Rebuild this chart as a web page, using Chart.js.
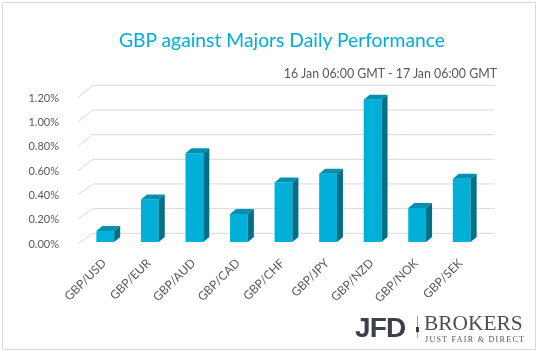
<!DOCTYPE html>
<html lang="en">
<head>
  <meta charset="UTF-8">
  <title>GBP against Majors Daily Performance</title>
  <style>
    body { margin: 0; background: #fff; }
    #wrap { position: relative; width: 538px; height: 351px; overflow: hidden; background: #fff; }
    #frame { position: absolute; left: 2px; top: 2px; width: 532px; height: 346px; border: 1px solid #d9d9d9; }
    canvas { position: absolute; left: 0; top: 0; }
    .txt { position: absolute; white-space: nowrap; line-height: 1; }
    #title { left: 119px; top: 28px; font: 19.3px Lato, sans-serif; color: #00aedb; }
    #sub { right: 41px; top: 66px; font: 12.4px Lato, sans-serif; color: #595959; }
    #jfd { left: 355px; top: 312px; font: bold 28px "Liberation Sans", Arial, sans-serif; color: #3b4049; letter-spacing: -0.8px; }
    #sep { position: absolute; left: 417px; top: 316px; width: 1px; height: 22px; background: #a0a0a0; }
    #dot { position: absolute; left: 416px; top: 327px; width: 3px; height: 5px; background: #3b4049; }
    #brokers { left: 424px; top: 311px; font: 21.4px "Liberation Serif", serif; color: #4a4f57; }
    #tag { left: 425px; top: 335px; font: 8px "Liberation Serif", serif; color: #555; letter-spacing: 1.3px; }
  </style>
</head>
<body>
<div id="wrap">
  <div id="frame"></div>
  <canvas id="chart" width="538" height="351"></canvas>
  <div class="txt" id="title">GBP against Majors Daily Performance</div>
  <div class="txt" id="sub">16 Jan 06:00 GMT - 17 Jan 06:00 GMT</div>
  <div class="txt" id="jfd">JFD</div>
  <div id="sep"></div>
  <div id="dot"></div>
  <div class="txt" id="brokers">BROKERS</div>
  <div class="txt" id="tag">JUST FAIR &amp; DIRECT</div>
</div>

<script src="https://cdn.jsdelivr.net/npm/chart.js@4.4.1/dist/chart.umd.min.js"></script>
<script>
  const categories = ['GBP/USD', 'GBP/EUR', 'GBP/AUD', 'GBP/CAD', 'GBP/CHF', 'GBP/JPY', 'GBP/NZD', 'GBP/NOK', 'GBP/SEK'];
  const changes = [0.09, 0.35, 0.73, 0.23, 0.49, 0.56, 1.17, 0.28, 0.52];
  const yTicks = [0, 0.2, 0.4, 0.6, 0.8, 1.0, 1.2];

  const frontColor = '#00b0d8';
  const topColor = '#0091b2';
  const sideColor = '#006f88';

  // back-wall gridlines with the little diagonal floor edge on the left
  const wallGrid = {
    id: 'wallGrid',
    beforeDatasetsDraw(chart) {
      const { ctx, chartArea, scales } = chart;
      const top = yTicks[yTicks.length - 1];
      ctx.save();
      ctx.strokeStyle = '#d9d9d9';
      ctx.lineWidth = 1;
      yTicks.forEach(v => {
        const p = scales.y.getPixelForValue(v);
        const back = p - 8.7 - 2 * v / top;
        ctx.beginPath();
        ctx.moveTo(chartArea.left - 5, p + 1.6);
        ctx.lineTo(chartArea.left + 10, back);
        ctx.lineTo(chartArea.right + 10.6, back);
        ctx.stroke();
      });
      ctx.restore();
    }
  };

  // top and side faces so the columns look 3D
  const columns3d = {
    id: 'columns3d',
    afterDatasetsDraw(chart) {
      const { ctx } = chart;
      const dx = 6, dy = 5;
      ctx.save();
      chart.getDatasetMeta(0).data.forEach(bar => {
        const l = bar.x - bar.width / 2, r = bar.x + bar.width / 2;
        const t = bar.y, b = bar.base;
        ctx.fillStyle = topColor;
        ctx.beginPath();
        ctx.moveTo(l, t); ctx.lineTo(l + dx, t - dy); ctx.lineTo(r + dx, t - dy); ctx.lineTo(r, t);
        ctx.closePath(); ctx.fill();
        ctx.fillStyle = sideColor;
        ctx.beginPath();
        ctx.moveTo(r, t); ctx.lineTo(r + dx, t - dy); ctx.lineTo(r + dx, b - dy); ctx.lineTo(r, b);
        ctx.closePath(); ctx.fill();
      });
      ctx.restore();
    }
  };

  new Chart(document.getElementById('chart'), {
    type: 'bar',
    data: {
      labels: categories,
      datasets: [{
        data: changes,
        backgroundColor: frontColor,
        borderWidth: 0,
        barPercentage: 0.4,
        categoryPercentage: 1.0
      }]
    },
    options: {
      responsive: false,
      animation: false,
      devicePixelRatio: 1,
      layout: { padding: { left: 0, top: 96, right: 54, bottom: 0 } },
      plugins: { legend: { display: false }, tooltip: { enabled: false } },
      scales: {
        y: {
          min: 0,
          max: 1.2,
          afterFit: s => { s.width = 83; },
          afterBuildTicks: s => { s.ticks = yTicks.map(v => ({ value: v })); },
          grid: { display: false },
          border: { display: false },
          ticks: {
            padding: 16,
            labelOffset: 2,
            color: '#595959',
            font: { family: 'Lato', size: 11 },
            callback: v => v.toFixed(2) + '%'
          }
        },
        x: {
          afterFit: s => { s.height = 109; },
          grid: { display: false, drawTicks: false },
          border: { display: false },
          ticks: {
            padding: 14,
            labelOffset: -1,
            minRotation: 45,
            maxRotation: 45,
            color: '#595959',
            font: { family: 'Lato', size: 12 }
          }
        }
      }
    },
    plugins: [wallGrid, columns3d]
  });
</script>
</body>
</html>
